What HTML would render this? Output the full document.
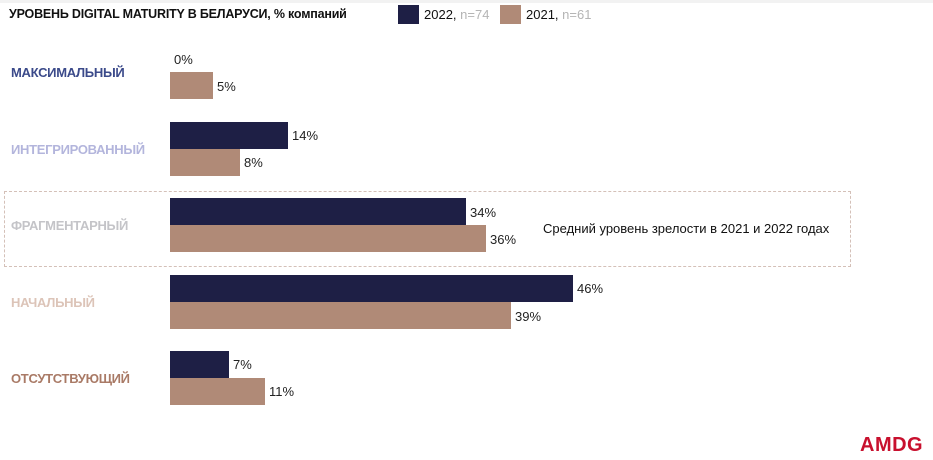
<!DOCTYPE html>
<html><head><meta charset="utf-8"><style>
body{margin:0;width:933px;height:460px;background:#fff;position:relative;overflow:hidden;font-family:"Liberation Sans","DejaVu Sans",sans-serif;}
.a{position:absolute;}
.b22{background:#1e1f45;height:27px;left:170px;position:absolute;}
.b21{background:#b08a77;height:27px;left:170px;position:absolute;}
.v{position:absolute;font-size:13px;color:#222;}
.lab{position:absolute;left:11px;font-size:13px;font-weight:bold;letter-spacing:-0.3px;}
</style></head><body>
<div class="a" style="left:0;top:0;width:933px;height:3px;background:#f2f2f2"></div>
<div class="a" style="left:9px;top:7px;font-size:12.5px;font-weight:bold;color:#111;letter-spacing:-0.2px">УРОВЕНЬ DIGITAL MATURITY В БЕЛАРУСИ, % компаний</div>
<div class="a" style="left:398px;top:5px;width:21px;height:19px;background:#1e1f45"></div>
<div class="a" style="left:424px;top:7px;font-size:13px;color:#111">2022, <span style="color:#b5b5b5">n=74</span></div>
<div class="a" style="left:500px;top:5px;width:21px;height:19px;background:#b08a77"></div>
<div class="a" style="left:526px;top:7px;font-size:13px;color:#111">2021, <span style="color:#b5b5b5">n=61</span></div>

<div class="a" style="left:4px;top:191px;width:845px;height:74px;border:1px dashed #d4c0b8"></div>
<div class="a" style="left:543px;top:221px;font-size:13px;color:#111">Средний уровень зрелости в 2021 и 2022 годах</div>

<div class="lab" style="top:65px;color:#3b4a8a">МАКСИМАЛЬНЫЙ</div>
<div class="v" style="left:174px;top:52px">0%</div>
<div class="b21" style="top:72px;width:43px"></div>
<div class="v" style="left:217px;top:79px">5%</div>

<div class="lab" style="top:142px;color:#b3b5dc">ИНТЕГРИРОВАННЫЙ</div>
<div class="b22" style="top:122px;width:118px"></div>
<div class="v" style="left:292px;top:128px">14%</div>
<div class="b21" style="top:149px;width:70px"></div>
<div class="v" style="left:244px;top:155px">8%</div>

<div class="lab" style="top:218px;color:#c4c4c8">ФРАГМЕНТАРНЫЙ</div>
<div class="b22" style="top:198px;width:296px"></div>
<div class="v" style="left:470px;top:205px">34%</div>
<div class="b21" style="top:225px;width:316px"></div>
<div class="v" style="left:490px;top:232px">36%</div>

<div class="lab" style="top:295px;color:#dcc4b8">НАЧАЛЬНЫЙ</div>
<div class="b22" style="top:275px;width:403px"></div>
<div class="v" style="left:577px;top:281px">46%</div>
<div class="b21" style="top:302px;width:341px"></div>
<div class="v" style="left:515px;top:309px">39%</div>

<div class="lab" style="top:371px;color:#a97a66">ОТСУТСТВУЮЩИЙ</div>
<div class="b22" style="top:351px;width:59px"></div>
<div class="v" style="left:233px;top:357px">7%</div>
<div class="b21" style="top:378px;width:95px"></div>
<div class="v" style="left:269px;top:384px">11%</div>

<div class="a" style="left:860px;top:434px;font-size:20px;font-weight:bold;color:#c8102e;letter-spacing:0.5px">AMDG</div>
</body></html>
